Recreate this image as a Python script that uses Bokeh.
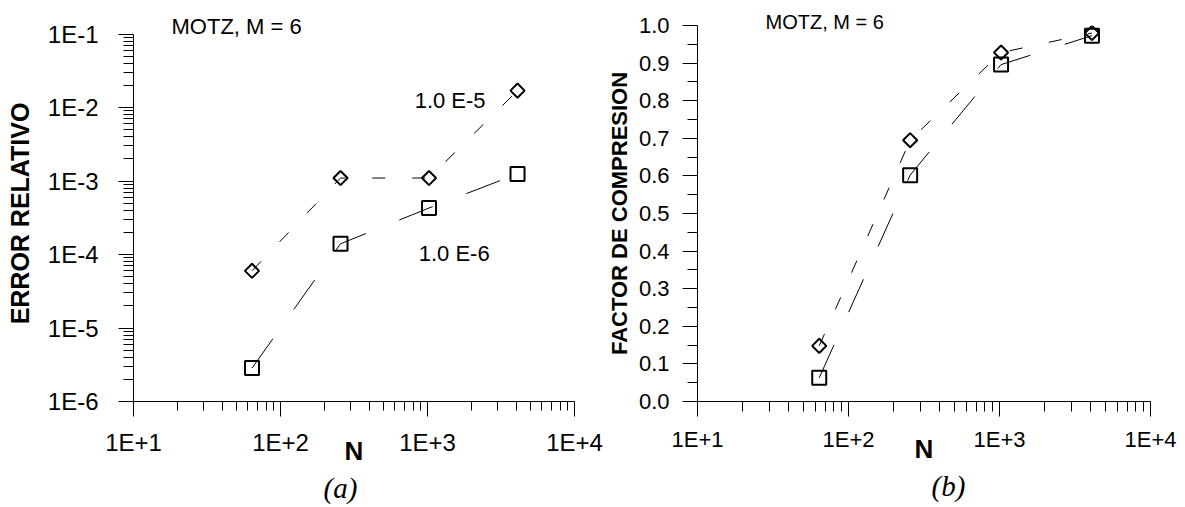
import numpy as np
from bokeh.plotting import figure
from bokeh.layouts import row
from bokeh.models import Range1d, FixedTicker, CustomJSTickFormatter, Label, Title
from bokeh.embed import file_html
from bokeh.resources import INLINE

# ---------------- data ----------------
N = [64, 256, 1024, 4096]
err_tol_1e5 = [6.0e-5, 1.1e-3, 1.1e-3, 1.7e-2]
err_tol_1e6 = [2.85e-6, 1.4e-4, 4.3e-4, 1.25e-3]
comp_tol_1e5 = [0.148, 0.695, 0.928, 0.980]
comp_tol_1e6 = [0.063, 0.602, 0.896, 0.973]

x_ticks = [10, 100, 1000, 10000]
x_tick_labels = ["1E+1", "1E+2", "1E+3", "1E+4"]
err_ticks = [1e-6, 1e-5, 1e-4, 1e-3, 1e-2, 1e-1]
err_tick_labels = ["1E-6", "1E-5", "1E-4", "1E-3", "1E-2", "1E-1"]
comp_ticks = [0.0, 0.1, 0.2, 0.3, 0.4, 0.5, 0.6, 0.7, 0.8, 0.9, 1.0]
comp_tick_labels = ["0.0", "0.1", "0.2", "0.3", "0.4", "0.5", "0.6", "0.7", "0.8", "0.9", "1.0"]

FONT = "Liberation Sans"

log_fmt_code = """
const lt = Math.log10(tick);
for (let i = 0; i < tv.length; i++) {
  if (Math.abs(Math.log10(tv[i]) - lt) < 1e-6) return tl[i];
}
return '';
"""
lin_fmt_code = """
for (let i = 0; i < tv.length; i++) {
  if (Math.abs(tv[i] - tick) < 1e-6) return tl[i];
}
return '';
"""

x_minor = [k * 10.0 ** e for e in (1, 2, 3) for k in range(2, 10)]
err_minor = [k * 10.0 ** e for e in (-6, -5, -4, -3, -2) for k in range(2, 10)]
comp_minor = [round(t + 0.05, 2) for t in comp_ticks[:-1]]


def style_axes(p, label_size, x_minor_len):
    p.outline_line_color = None
    p.xgrid.visible = False
    p.ygrid.visible = False
    for ax in (p.xaxis[0], p.yaxis[0]):
        ax.axis_line_color = "black"
        ax.axis_line_width = 1
        ax.major_tick_line_color = "black"
        ax.minor_tick_line_color = "black"
        ax.major_tick_in = 0
        ax.minor_tick_in = 0
        ax.major_tick_out = 15
        ax.major_label_text_font = FONT
        ax.major_label_text_font_size = label_size
        ax.major_label_text_color = "black"
        ax.axis_label_text_font = FONT
        ax.axis_label_text_font_style = "bold"
        ax.axis_label_text_color = "black"
    p.xaxis[0].minor_tick_out = x_minor_len
    p.yaxis[0].minor_tick_out = 10


def caption(text, offset, standoff):
    return Title(text=text, align="left", offset=offset, standoff=standoff,
                 text_font="Liberation Serif", text_font_style="italic",
                 text_font_size="29px", text_color="black")


def header(text, offset, standoff, size):
    return Title(text=text, align="left", offset=offset, standoff=standoff,
                 text_font=FONT, text_font_style="normal",
                 text_font_size=size, text_color="black")


# both frames share top (y=25) and bottom (y=401) inside the row
# ---------------- (a) relative error ----------------
pa = figure(width=603, height=506, x_axis_type="log", y_axis_type="log",
            x_range=Range1d(10, 10000), y_range=Range1d(1e-6, 10 ** -0.883),
            output_backend="svg", toolbar_location=None,
            min_border_left=133, min_border_right=29, min_border_top=25, min_border_bottom=105)
style_axes(pa, "24px", 9)
pa.yaxis.bounds = (1e-6, 1e-1)
pa.xaxis.ticker = FixedTicker(ticks=x_ticks, minor_ticks=x_minor)
pa.xaxis.formatter = CustomJSTickFormatter(args=dict(tv=x_ticks, tl=x_tick_labels), code=log_fmt_code)
pa.yaxis.ticker = FixedTicker(ticks=err_ticks, minor_ticks=err_minor)
pa.yaxis.formatter = CustomJSTickFormatter(args=dict(tv=err_ticks, tl=err_tick_labels), code=log_fmt_code)
pa.xaxis.major_label_standoff = 12
pa.yaxis.major_label_standoff = 20
pa.xaxis.axis_label = "N"
pa.xaxis.axis_label_text_font_size = "26px"
pa.xaxis.axis_label_standoff = -23
pa.yaxis.axis_label = "ERROR RELATIVO"
pa.yaxis.axis_label_text_font_size = "25px"
pa.yaxis.axis_label_standoff = 11

pa.line(N, err_tol_1e5, line_color="black", line_width=1, line_dash="13 27")
pa.line(N, err_tol_1e6, line_color="black", line_width=1, line_dash="36 36")
pa.scatter(N, err_tol_1e5, marker="square", angle=np.pi / 4, size=10,
           fill_color=None, line_color="black", line_width=2)
pa.scatter(N, err_tol_1e6, marker="square", size=14,
           fill_color=None, line_color="black", line_width=2)

pa.add_layout(Label(x=818, y=0.01245, text="1.0 E-5", text_font=FONT, text_color="black",
                    text_font_size="22px", text_baseline="alphabetic", text_align="left"))
pa.add_layout(Label(x=871, y=1.033e-4, text="1.0 E-6", text_font=FONT, text_color="black",
                    text_font_size="22px", text_baseline="alphabetic", text_align="left"))
pa.add_layout(header("MOTZ, M = 6", 38, -27, "22px"), "above")
pa.add_layout(caption("(a)", 190, 3), "below")

# ---------------- (b) compression factor ----------------
pb = figure(width=574, height=506, x_axis_type="log",
            x_range=Range1d(10, 10000), y_range=Range1d(0, 1.0),
            output_backend="svg", toolbar_location=None,
            min_border_left=94, min_border_right=27, min_border_top=25, min_border_bottom=105)
style_axes(pb, "22px", 10)
pb.xaxis.ticker = FixedTicker(ticks=x_ticks, minor_ticks=x_minor)
pb.xaxis.formatter = CustomJSTickFormatter(args=dict(tv=x_ticks, tl=x_tick_labels), code=log_fmt_code)
pb.yaxis.ticker = FixedTicker(ticks=comp_ticks, minor_ticks=comp_minor)
pb.yaxis.formatter = CustomJSTickFormatter(args=dict(tv=comp_ticks, tl=comp_tick_labels), code=lin_fmt_code)
pb.xaxis.major_label_standoff = 10
pb.yaxis.major_label_standoff = 13
pb.xaxis.axis_label = "N"
pb.xaxis.axis_label_text_font_size = "26px"
pb.xaxis.axis_label_standoff = -21
pb.yaxis.axis_label = "FACTOR DE COMPRESION"
pb.yaxis.axis_label_text_font_size = "22px"
pb.yaxis.axis_label_standoff = 4

pb.line(N, comp_tol_1e5, line_color="black", line_width=1, line_dash="13 27")
pb.line(N, comp_tol_1e6, line_color="black", line_width=1, line_dash="36 36")
pb.scatter(N, comp_tol_1e5, marker="square", angle=np.pi / 4, size=10,
           fill_color=None, line_color="black", line_width=2)
pb.scatter(N, comp_tol_1e6, marker="square", size=14,
           fill_color=None, line_color="black", line_width=2)

pb.add_layout(header("MOTZ, M = 6", 68, -15, "20px"), "above")
pb.add_layout(caption("(b)", 234, 3), "below")

layout = row(pa, pb)
open("out.html", "w").write(file_html(layout, INLINE))
